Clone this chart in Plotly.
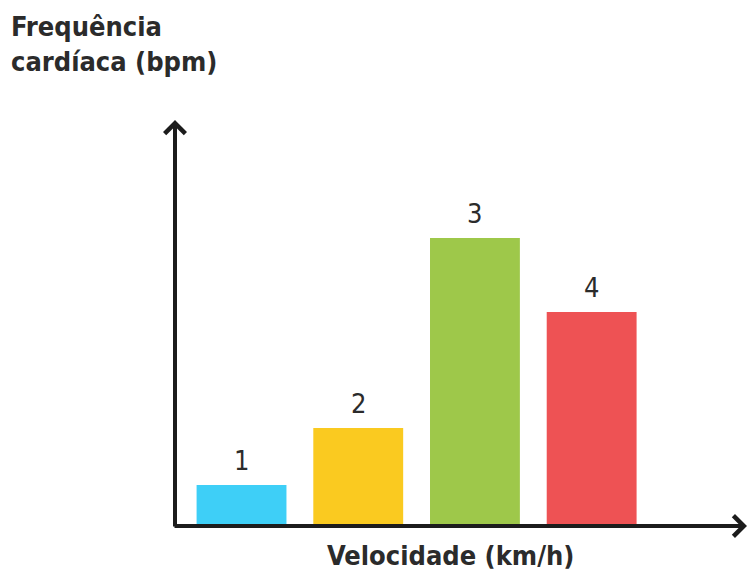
import plotly.graph_objects as go

# Bar categories (also printed above each bar) and relative heart-rate levels
categories = ["1", "2", "3", "4"]
heart_rate = [41, 98, 288, 214]
bar_colors = ["#3ECFF7", "#FACA20", "#9EC84A", "#EE5254"]

y_title_lines = ["Frequência", "cardíaca (bpm)"]
x_title = "Velocidade (km/h)"

FONT = "DejaVu Sans Condensed, Liberation Sans Narrow, sans-serif"
INK = "#2b2b2b"
AXIS = "#1c1c1c"

# plot-area geometry (pixels) used to place the paper-referenced texts
L, R, T, B = 175, 2, 120, 45
W, H = 749, 571
PW, PH = W - L - R, H - T - B


def px_x(px):
    return (px - L) / PW


def px_y(py):
    return (H - B - py) / PH


positions = list(range(len(categories)))

fig = go.Figure(
    go.Bar(
        x=positions,
        y=heart_rate,
        marker=dict(color=bar_colors, line=dict(width=0)),
        width=0.77,
        hoverinfo="skip",
    )
)

# Category numbers sitting above each bar
for pos, cat, val in zip(positions, categories, heart_rate):
    fig.add_annotation(
        x=pos, y=val, xref="x", yref="y",
        text=cat, showarrow=False,
        yanchor="bottom", yshift=7,
        font=dict(family=FONT, size=27, color=INK),
    )

# Axis lines with open chevron arrowheads
fig.add_annotation(
    x=1, y=0, xref="paper", yref="paper",
    ax=-574, ay=0, text="", showarrow=True,
    arrowhead=4, arrowsize=1, arrowwidth=4, arrowcolor=AXIS, standoff=0,
)
fig.add_annotation(
    x=0, y=1, xref="paper", yref="paper",
    ax=0, ay=408, text="", showarrow=True,
    arrowhead=4, arrowsize=1, arrowwidth=4, arrowcolor=AXIS, standoff=0,
)

# Y-axis title, two lines in the top-left corner
for line, baseline in zip(y_title_lines, [37, 72]):
    fig.add_annotation(
        text="<b>" + line + "</b>",
        xref="paper", yref="paper",
        x=px_x(9), y=px_y(baseline + 7),
        xanchor="left", yanchor="bottom", align="left", showarrow=False,
        font=dict(family=FONT, size=27, color=INK),
    )

# X-axis title under the horizontal axis
fig.add_annotation(
    text="<b>" + x_title + "</b>",
    xref="paper", yref="paper",
    x=px_x(450), y=px_y(555),
    xanchor="center", yanchor="middle", showarrow=False,
    font=dict(family=FONT, size=27, color=INK),
)

fig.update_layout(
    width=W, height=H,
    margin=dict(l=L, r=R, t=T, b=B),
    paper_bgcolor="white", plot_bgcolor="white",
    showlegend=False,
    xaxis=dict(
        range=[-0.57, 4.331], showticklabels=False, showgrid=False,
        zeroline=False, showline=False, ticks="", fixedrange=True,
    ),
    yaxis=dict(
        range=[0, 406], showticklabels=False, showgrid=False,
        zeroline=False, showline=False, ticks="", fixedrange=True,
    ),
)

fig.write_html("out.html")
